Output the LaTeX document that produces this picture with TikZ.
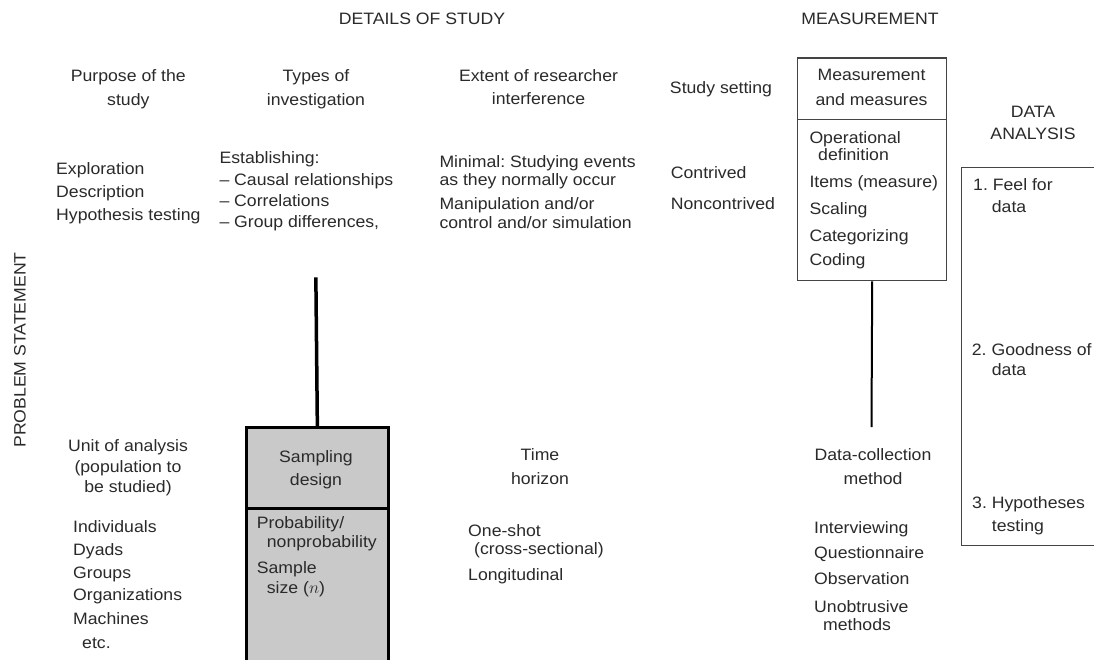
\documentclass[tikz,border=0pt]{standalone}
\usepackage{fontspec}
\setmainfont[FakeStretch=1.07]{Liberation Sans}
\definecolor{textgray}{HTML}{2A2A2A}
\definecolor{boxgray}{HTML}{C9C9C9}
\definecolor{linegray}{HTML}{444444}
\frenchspacing
\begin{document}
\begin{tikzpicture}[x=1pt,y=-1pt,
  txt/.style={inner sep=0pt, text=textgray, font=\fontsize{16.5}{20}\selectfont\frenchspacing},
  L/.style={txt, anchor=base west},
  C/.style={txt, anchor=base},
  thinbox/.style={draw=linegray, line width=1.4pt, anchor=north west, inner sep=0pt},
  grayline/.style={draw=linegray, line width=1.2pt},
  thickbox/.style={draw=black, fill=boxgray, line width=3pt, anchor=north west, inner sep=0pt},
  thickline/.style={draw=black, line width=3.5pt},
  connline/.style={draw=black, line width=2pt}]
\useasboundingbox (0,0) rectangle (1094,659);
\clip (0,0) rectangle (1094,659);
\fill[white] (0,0) rectangle (1094,659);

% boxes
\node[thinbox, minimum width=149pt, minimum height=222.7pt] (meas) at (797,57.3) {};
\draw[grayline] (797,119.3) -- (946,119.3);
\node[thinbox, line width=1.2pt, minimum width=160pt, minimum height=378.3pt] (da) at (960.7,166.7) {};
\node[thickbox, minimum width=141.7pt, minimum height=260pt] (samp) at (245,426) {};
\draw[draw=black, line width=3pt] (245,508.3) -- (386.7,508.3);

% connectors
\coordinate (samptop) at (315.85,277.3);
\coordinate (dctop) at (871.5,427);
\draw[thickline] (samp.north) -- (samptop);
\draw[connline] (meas.south) -- (dctop);

% headings
\node[C] (h1) at (422,24.5) {DETAILS OF STUDY};
\node[C] (h2) at (870,24) {MEASUREMENT};
\node[C] (p1) at (128.3,81.5) {Purpose of the};
\node[C] (p2) at (128.3,105.5) {study};
\node[C] (t1) at (316,81.5) {Types of};
\node[C] (t2) at (316,105.5) {investigation};
\node[C] (e1) at (538.5,81.5) {Extent of researcher};
\node[C] (e2) at (538.5,104.5) {interference};
\node[C] (ss) at (721,93) {Study setting};
\node[C] (m1) at (871.5,80.5) {Measurement};
\node[C] (m2) at (871.5,105.5) {and measures};
\node[C] (d1) at (1033,117) {DATA};
\node[C] (d2) at (1033,139) {ANALYSIS};

% purpose
\node[L] (pu1) at (56,174) {Exploration};
\node[L] (pu2) at (56,197) {Description};
\node[L] (pu3) at (56,220) {Hypothesis testing};
% types
\node[L] (ty1) at (219.3,163.5) {Establishing:};
\node[L] (ty2) at (219.3,185.5) {-- Causal relationships};
\node[L] (ty3) at (219.3,206.5) {-- Correlations};
\node[L] (ty4) at (219.3,227.5) {-- Group differences,};
% extent
\node[L] (ex1) at (439.3,167.5) {Minimal: Studying events};
\node[L] (ex2) at (439.3,185) {as they normally occur};
\node[L] (ex3) at (439.3,209.5) {Manipulation and/or};
\node[L] (ex4) at (439.3,228.5) {control and/or simulation};
% setting
\node[L] (st1) at (670.7,178) {Contrived};
\node[L] (st2) at (670.7,209.5) {Noncontrived};
% measurement items
\node[L] (mi1) at (809.3,143) {Operational};
\node[L] (mi2) at (818,160.5) {definition};
\node[L] (mi3) at (809.3,187) {Items (measure)};
\node[L] (mi4) at (809.3,214.5) {Scaling};
\node[L] (mi5) at (809.3,241.5) {Categorizing};
\node[L] (mi6) at (809.3,265.5) {Coding};
% data analysis
\node[L] (da1) at (973,190) {1. Feel for};
\node[L] (da2) at (991.7,212) {data};
\node[L] (da3) at (971.7,355.5) {2. Goodness of};
\node[L] (da4) at (991.7,375.5) {data};
\node[L] (da5) at (972,508.5) {3. Hypotheses};
\node[L] (da6) at (991.7,531.5) {testing};

% problem statement
\node[txt, rotate=90, anchor=center] (ps) at (20,350) {PROBLEM STATEMENT};

% unit of analysis
\node[C] (u1) at (128,451.5) {Unit of analysis};
\node[C] (u2) at (128,472.5) {(population to};
\node[C] (u3) at (128,492.5) {be studied)};
\node[L] (ui1) at (73,532.5) {Individuals};
\node[L] (ui2) at (73,555.5) {Dyads};
\node[L] (ui3) at (73,578.5) {Groups};
\node[L] (ui4) at (73,600.5) {Organizations};
\node[L] (ui5) at (73,624.5) {Machines};
\node[L] (ui6) at (82,648.5) {etc.};

% sampling
\node[C] (sd1) at (316,462) {Sampling};
\node[C] (sd2) at (316,485) {design};
\node[L] (sp1) at (256.7,528.5) {Probability/};
\node[L] (sp2) at (266.7,547) {nonprobability};
\node[L] (sp3) at (256.7,573.5) {Sample};
\node[L] (sp4) at (266.7,593.5) {size ($n$)};

% time horizon
\node[C] (th1) at (540,460.5) {Time};
\node[C] (th2) at (540,484.5) {horizon};
\node[L] (tf1) at (468,536.5) {One-shot};
\node[L] (tf2) at (474,554.5) {(cross-sectional)};
\node[L] (tf3) at (468,580.5) {Longitudinal};

% data collection
\node[C] (dc1) at (873,460.5) {Data-collection};
\node[C] (dc2) at (873,484.5) {method};
\node[L] (dm1) at (814,533.5) {Interviewing};
\node[L] (dm2) at (814,558.5) {Questionnaire};
\node[L] (dm3) at (814,584.5) {Observation};
\node[L] (dm4) at (814,612) {Unobtrusive};
\node[L] (dm5) at (823,630.5) {methods};
\end{tikzpicture}
\end{document}
